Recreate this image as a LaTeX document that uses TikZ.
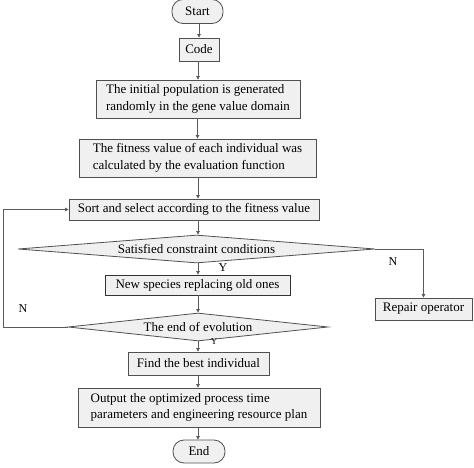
\documentclass[tikz,border=0pt]{standalone}
\usepackage{fontspec}
\setmainfont{Liberation Serif}
\usetikzlibrary{arrows.meta,shapes.geometric}
\definecolor{boxfill}{HTML}{F0F0F0}
\definecolor{boxline}{HTML}{505050}
\definecolor{conn}{HTML}{5A5A5A}
\begin{document}
\begin{tikzpicture}[x=1pt,y=-1pt,
  txt/.style={font=\fontsize{13}{16.5}\selectfont},
  box/.style={txt, draw=boxline, fill=boxfill, line width=0.8pt, inner sep=0pt, align=left},
  term/.style={box, rounded corners=11pt},
  dec/.style={txt, shape=diamond, draw=boxline, fill=boxfill, line width=0.8pt, inner sep=0pt},
  arr/.style={draw=conn, line width=0.7pt, -{Triangle[length=3.5pt,width=3.5pt]}},
  lbl/.style={font=\fontsize{12}{14}\selectfont}
]
\useasboundingbox (0,0) rectangle (474,468);
\node[term, minimum width=51pt, minimum height=24pt] (start) at (197.5,11.5) {Start};
\node[box, minimum width=40pt, minimum height=23pt] (code) at (199,49.5) {Code};
\node[box, minimum width=204pt, minimum height=38pt] (init) at (198,99) {The initial population is generated\\randomly in the gene value domain};
\node[box, minimum width=237pt, minimum height=38pt] (fit) at (197.5,158) {The fitness value of each individual was\\calculated by the evaluation function};
\node[box, minimum width=250pt, minimum height=21pt] (sort) at (194,209.5) {Sort and select according to the fitness value};
\node[dec, aspect=12.75, minimum width=357pt, minimum height=28pt] (d1) at (196.5,249) {Satisfied constraint conditions};
\node[box, draw=black!80, minimum width=185pt, minimum height=20pt] (newsp) at (197.5,285) {New species replacing old ones};
\node[box, minimum width=97pt, minimum height=22pt] (rep) at (423.5,309) {Repair operator};
\node[dec, aspect=9.3, minimum width=260pt, minimum height=28pt] (d2) at (198,327) {The end of evolution};
\node[box, minimum width=141pt, minimum height=23pt] (best) at (198.5,363.5) {Find the best individual};
\node[box, minimum width=242pt, minimum height=39pt] (out) at (199,407.5) {Output the optimized process time\\parameters and engineering resource plan};
\node[term, minimum width=52pt, minimum height=23pt] (end) at (199,451.5) {End};
\draw[arr] (start.south -| code.north) -- (code.north);
\draw[arr] (code.south -| init.north) -- (init.north);
\draw[arr] (init.south -| fit.north) -- (fit.north);
\draw[arr] (fit.south -| 198,0) -- (sort.north -| 198,0);
\draw[arr] (sort.south -| 198,0) -- (d1.north -| 198,0);
\draw[arr] (d1.south -| 198,0) -- (newsp.north -| 198,0);
\draw[arr] (newsp.south -| 198,0) -- (d2.north -| 198,0);
\draw[arr] (d2.south -| 198,0) -- (best.north -| 198,0);
\draw[arr] (best.south -| 198,0) -- (out.north -| 198,0);
\draw[arr] (out.south -| 198,0) -- (end.north -| 198,0);
\draw[arr] (d1.east) -| (rep.north);
\coordinate (lp) at (3,0);
\draw[arr] (d2.west) -- (d2.west -| lp) |- (sort.west);
\node[lbl] (ny) at (393,262) {N};
\node[lbl] (nl) at (23,309) {N};
\node[lbl] (y1) at (223,268) {Y};
\node[lbl, font=\fontsize{9}{10}\selectfont] (y2) at (214,342) {Y};
\end{tikzpicture}
\end{document}
